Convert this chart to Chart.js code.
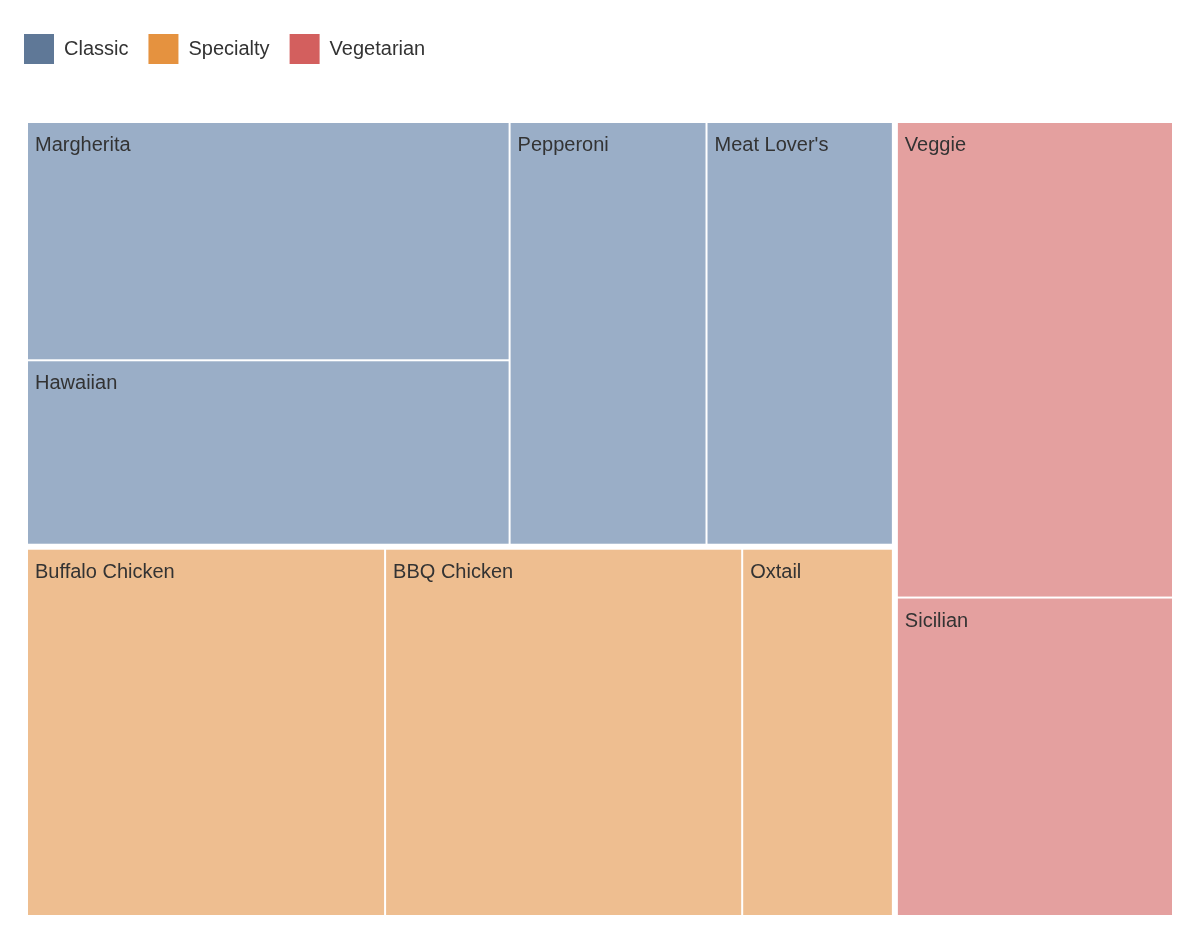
<!DOCTYPE html>
<html>
<head>
<meta charset="utf-8">
<title>Pizza sales treemap</title>
<script src="https://cdn.jsdelivr.net/npm/chart.js@4.4.1/dist/chart.umd.min.js"></script>
<style>
  html, body { margin: 0; padding: 0; background: #fff; }
  #wrap { position: relative; width: 1200px; height: 940px; }
</style>
</head>
<body>
<div id="wrap"><canvas id="chart"></canvas></div>
<script>
// groups and their colours
const groups = ['Classic', 'Specialty', 'Vegetarian'];
const groupColors = ['#5f7897', '#e5923f', '#d35f5e'];
const cellColors = ['#9aaec7', '#eebe90', '#e4a09f'];

// leaves
const pizzas = ['Margherita', 'Hawaiian', 'Pepperoni', "Meat Lover's", 'Buffalo Chicken', 'BBQ Chicken', 'Oxtail', 'Veggie', 'Sicilian'];
const pizzaGroup = ['Classic', 'Classic', 'Classic', 'Classic', 'Specialty', 'Specialty', 'Specialty', 'Vegetarian', 'Vegetarian'];
const sales = [126, 99, 92, 88, 145, 145, 62, 145, 97];

const FONT = '"Liberation Sans", Arial, Helvetica, sans-serif';
const TEXT = '#333333';
const GROUP_GAP = 6;
const CELL_GAP = 2;
const PHI = (1 + Math.sqrt(5)) / 2;

// d3-style squarify; k = pixels per x unit / pixels per y unit
function squarify(nodes, x0, y0, x1, y1, k) {
  let value = nodes.reduce((s, n) => s + n.value, 0);
  let i0 = 0, i1 = 0;
  const n = nodes.length;
  while (i0 < n) {
    const dx = (x1 - x0) * k, dy = y1 - y0;
    let sum = nodes[i1++].value, min = sum, max = sum;
    const alpha = Math.max(dy / dx, dx / dy) / (value * PHI);
    let beta = sum * sum * alpha;
    let minRatio = Math.max(max / beta, beta / min);
    for (; i1 < n; ++i1) {
      const v = nodes[i1].value;
      sum += v;
      if (v < min) min = v;
      if (v > max) max = v;
      beta = sum * sum * alpha;
      const r = Math.max(max / beta, beta / min);
      if (r > minRatio) { sum -= v; break; }
      minRatio = r;
    }
    const row = nodes.slice(i0, i1);
    if (dx < dy) {
      const yb = i1 >= n ? y1 : y0 + (y1 - y0) * sum / value;
      let x = x0;
      row.forEach(nd => {
        const w = (x1 - x0) * nd.value / sum;
        nd.rect = [x, y0, x + w, yb];
        x += w;
      });
      y0 = yb;
    } else {
      const xb = i1 >= n ? x1 : x0 + (x1 - x0) * sum / value;
      let y = y0;
      row.forEach(nd => {
        const h = (y1 - y0) * nd.value / sum;
        nd.rect = [x0, y, xb, y + h];
        y += h;
      });
      x0 = xb;
    }
    value -= sum;
    i0 = i1;
  }
}

const buildTree = () => {
  const tree = groups.map((g, gi) => ({
    name: g, index: gi,
    children: pizzas.map((p, i) => ({ name: p, value: sales[i], group: pizzaGroup[i] }))
      .filter(c => c.group === g)
      .sort((a, b) => b.value - a.value)
  }));
  tree.forEach(t => { t.value = t.children.reduce((s, c) => s + c.value, 0); });
  return tree.sort((a, b) => b.value - a.value);
};

const toPx = (xs, ys, r) => {
  const a = xs.getPixelForValue(r[0]), b = xs.getPixelForValue(r[2]);
  const c = ys.getPixelForValue(r[1]), d = ys.getPixelForValue(r[3]);
  return [Math.min(a, b), Math.min(c, d), Math.max(a, b), Math.max(c, d)];
};

// shrink the sides that are not on the outer edge
const inset = (r, outer, p) => [
  Math.abs(r[0] - outer[0]) < 0.5 ? r[0] : r[0] + p,
  Math.abs(r[1] - outer[1]) < 0.5 ? r[1] : r[1] + p,
  Math.abs(r[2] - outer[2]) < 0.5 ? r[2] : r[2] - p,
  Math.abs(r[3] - outer[3]) < 0.5 ? r[3] : r[3] - p
];

const treemapPlugin = {
  id: 'treemap',
  beforeDatasetsDraw(chart) {
    const { ctx, scales: { x: xs, y: ys } } = chart;
    const kx = Math.abs(xs.getPixelForValue(1) - xs.getPixelForValue(0));
    const ky = Math.abs(ys.getPixelForValue(1) - ys.getPixelForValue(0));
    const k = kx / ky;
    const tree = buildTree();
    squarify(tree, 0, 0, 1, 1, k);
    const outer = toPx(xs, ys, [0, 0, 1, 1]);

    ctx.save();
    tree.forEach(g => {
      const gPx = toPx(xs, ys, g.rect);
      const gIn = inset(gPx, outer, GROUP_GAP / 2);
      squarify(g.children, g.rect[0], g.rect[1], g.rect[2], g.rect[3], k);
      g.children.forEach(c => {
        const cPx = toPx(xs, ys, c.rect);
        const r = [
          Math.abs(cPx[0] - gPx[0]) < 0.5 ? gIn[0] : cPx[0] + CELL_GAP / 2,
          Math.abs(cPx[1] - gPx[1]) < 0.5 ? gIn[1] : cPx[1] + CELL_GAP / 2,
          Math.abs(cPx[2] - gPx[2]) < 0.5 ? gIn[2] : cPx[2] - CELL_GAP / 2,
          Math.abs(cPx[3] - gPx[3]) < 0.5 ? gIn[3] : cPx[3] - CELL_GAP / 2
        ];
        ctx.fillStyle = cellColors[g.index];
        ctx.fillRect(r[0], r[1], r[2] - r[0], r[3] - r[1]);
        ctx.fillStyle = TEXT;
        ctx.font = '20px ' + FONT;
        ctx.textAlign = 'left';
        ctx.textBaseline = 'alphabetic';
        ctx.fillText(c.name, r[0] + 7, r[1] + 28);
      });
    });
    ctx.restore();
  }
};

// legend sits further left than the plot and leaves room below it
const legendPlace = {
  id: 'legendPlace',
  beforeInit(chart) {
    const fit = chart.legend.fit;
    chart.legend.fit = function () {
      fit.bind(chart.legend)();
      this.height = 109;
    };
  },
  afterLayout(chart) {
    const lg = chart.legend;
    lg.left -= 24;
    lg.right -= 24;
  }
};

new Chart(document.getElementById('chart'), {
  type: 'scatter',
  data: {
    datasets: groups.map((g, i) => ({ label: g, data: [], backgroundColor: groupColors[i] }))
  },
  options: {
    responsive: true,
    maintainAspectRatio: false,
    animation: false,
    events: [],
    layout: { padding: { top: 14, left: 28, right: 28, bottom: 25 } },
    scales: {
      x: { type: 'linear', min: 0, max: 1, display: false },
      y: { type: 'linear', min: 0, max: 1, reverse: true, display: false }
    },
    plugins: {
      tooltip: { enabled: false },
      legend: {
        position: 'top',
        align: 'start',
        labels: {
          boxWidth: 30,
          boxHeight: 30,
          padding: 20,
          color: TEXT,
          font: { size: 20, family: FONT },
          generateLabels: () => groups.map((g, i) => ({
            text: g, fillStyle: groupColors[i], strokeStyle: groupColors[i],
            fontColor: TEXT, lineWidth: 0, datasetIndex: i
          }))
        }
      }
    }
  },
  plugins: [treemapPlugin, legendPlace]
});
</script>
</body>
</html>
